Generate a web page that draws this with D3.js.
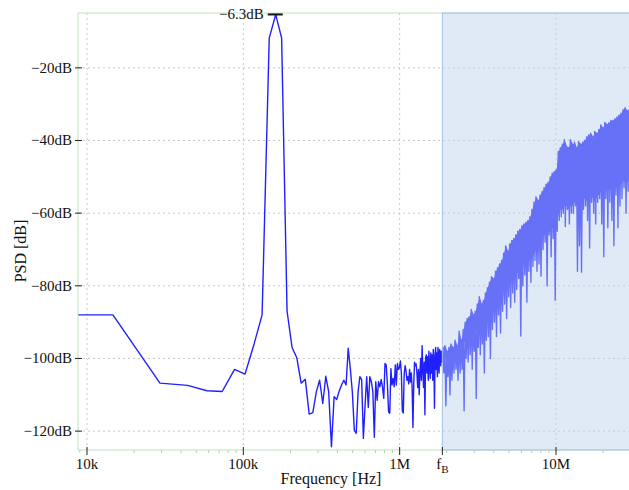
<!DOCTYPE html>
<html lang="en">
<head>
<meta charset="UTF-8">
<title>PSD</title>
<style>
  body { margin: 0; background: #fff; }
  svg text { font-family: 'Liberation Serif', 'Times New Roman', Times, 'DejaVu Serif', serif; font-size: 15px; fill: #111; }
  svg text.axis-title { font-size: 16px; }
</style>
</head>
<body>
<svg id="chart" width="629" height="490"></svg>
<script src="https://d3js.org/d3.v7.min.js"></script>
<script>
    // FFT bin spacing (60 MHz / 4096) and the DC level drawn at the left edge
    const binHz = 14648.4375;
    const dcLevel = -88;

    // PSD of bins 1..127 in dB
    const psdBins = [
        -88, -106.8, -107.4, -108.9, -109.1, -103, -104.3, -96, -88, -11.8,
        -5.3, -11.8, -87, -97, -99.8, -106.8, -105.7, -115.3, -114.9, -109.2,
        -106, -112.4, -104.9, -109.2, -124.3, -110.5, -111.3, -109, -107.3, -106,
        -107.3, -97.2, -102.8, -109.2, -119.7, -120.6, -109.2, -105, -105.8, -122,
        -113, -105, -113.5, -105, -106.4, -109.2, -121.7, -106.4, -111.5, -106.4,
        -107.8, -105.8, -107.8, -111, -101.4, -101.8, -107.3, -114.7, -115.1, -102.8,
        -107.3, -105.5, -107.8, -101.8, -107.3, -101.4, -103, -102.5, -100.7, -104,
        -114.5, -115, -104, -102, -103.5, -106, -105, -107, -103, -106.5,
        -104, -108, -119, -107, -101, -102, -101.5, -104, -108, -103,
        -110, -104, -100, -106, -96.5, -103, -108, -101, -115.5, -100,
        -99, -104, -99.5, -106, -98, -102, -105.5, -98.5, -104, -99,
        -106, -97.5, -101, -113.7, -99, -97, -103, -98.5, -105, -97,
        -100, -104, -97.5, -99, -102, -98, -101
    ];

    // above fB the bins are too dense to draw one by one:
    // per band the max, the bottom of the solid part, and the deepest dip
    const fB = 1.875e6;
    const fMax = 30e6;
    const bandHi = [
        -97, -96.5, -98, -97,
        -96, -97, -95, -96.5, -92.5, -95,
        -92, -90, -89, -88.5, -86.5, -88, -87,
        -85, -83, -85, -84, -82, -80.5, -79,
        -77.5, -78, -76, -75, -74, -73,
        -71, -69, -70.5, -68.5, -67.5, -67, -66,
        -65, -64.5, -63.5, -63, -62.5, -62, -61,
        -59, -57, -55.5, -56.5, -55, -54,
        -53, -52, -51.5, -50, -49, -48.5, -48,
        -43, -42, -41, -39.8, -41.5, -42, -39.8,
        -41, -40.5, -42, -40.3, -41, -40.5,
        -40, -39, -38.5, -38, -39, -37.5, -38,
        -37, -35.7, -36.5, -35, -35.5, -35.1, -34.5,
        -34.5, -34, -33.5, -33, -32.5, -31.5, -31, -31.8, -31.5
    ];
    const bandBody = [
        -101, -100, -101, -100,
        -100, -101, -99, -100, -97, -99,
        -96, -95, -94, -93, -92, -93, -93,
        -91, -90, -91, -90, -89, -88, -87,
        -86, -86, -85, -84, -84, -83,
        -81, -80, -80, -79, -78, -77, -77,
        -76, -76, -75, -74, -74, -73, -73,
        -72, -71, -70, -69, -68, -67,
        -66, -66, -65, -65, -64, -64, -63,
        -60, -59, -59, -58, -58, -59, -58,
        -58, -57, -58, -57, -57, -56,
        -56, -57, -56, -55, -56, -57, -55,
        -55, -54, -55, -54, -53, -54, -53,
        -54, -53, -53, -52, -52, -51, -52, -51, -52
    ];
    const bandLo = [
        -104, -113, -105, -110,
        -106, -104, -103, -106, -104, -103,
        -114.4, -100, -101, -99, -103, -98, -111,
        -97, -99, -96, -104, -95, -94, -100,
        -92, -90, -94, -88, -93, -87,
        -85, -89, -83, -86, -82, -84.5, -81,
        -78, -93.8, -80, -77, -84.5, -76, -79,
        -74.7, -73, -76, -74, -77.4, -70,
        -68, -80, -66, -72, -67, -84, -65,
        -62, -61, -60, -63.7, -59, -63, -60,
        -60, -58, -76, -69, -76.3, -59,
        -58, -62, -69.6, -57, -60, -63, -57,
        -56, -63, -72, -56, -64, -57, -62,
        -69, -55, -64, -58, -56, -53, -60, -54, -56
    ];

    const yTicks = [-20, -40, -60, -80, -100, -120];
    const xTicks = [1e4, 1e5, 1e6, 1e7];
    const xTickLabels = ["10k", "100k", "1M", "10M"];
    const peakLabel = "\u22126.3dB";

    const svg = d3.select("#chart")
        .attr("font-family", "'Liberation Serif', 'Times New Roman', serif");
    const plotL = 78, plotR = 629, plotT = 13, plotB = 450;
    const traceColor = "#2020ff";

    const x = d3.scaleLog().domain([8.76e3, 2.93e7]).range([plotL, plotR]);
    const y = d3.scaleLinear().domain([-125.2, -4.9]).range([plotB, plotT]);

    // grid
    svg.append("g").selectAll("line")
        .data(xTicks).enter().append("line")
        .attr("x1", d => x(d)).attr("x2", d => x(d))
        .attr("y1", plotT).attr("y2", plotB)
        .attr("stroke", "#c8c8c8").attr("stroke-dasharray", "2,3");
    svg.append("g").selectAll("line")
        .data(yTicks).enter().append("line")
        .attr("x1", plotL).attr("x2", plotR)
        .attr("y1", d => y(d)).attr("y2", d => y(d))
        .attr("stroke", "#c8c8c8").attr("stroke-dasharray", "2,3");

    svg.append("clipPath").attr("id", "plotClip")
        .append("rect").attr("x", plotL).attr("y", plotT)
        .attr("width", plotR - plotL).attr("height", plotB - plotT);

    // trace points
    const pts = [[x.domain()[0], dcLevel]];
    psdBins.forEach((v, i) => pts.push([(i + 1) * binHz, v]));
    const r = Math.pow(fMax / fB, 1 / bandHi.length);
    const bands = bandHi.map((h, i) => ({ f: fB * Math.pow(r, i), hi: h, body: bandBody[i], lo: bandLo[i] }));
    bands.forEach(b => {
        pts.push([b.f * Math.pow(r, 0.25), b.hi]);
        pts.push([b.f * Math.pow(r, 0.75), b.lo]);
    });

    // solid part of the dense band
    svg.append("path")
        .datum(bands)
        .attr("clip-path", "url(#plotClip)")
        .attr("fill", traceColor)
        .attr("d", d3.area()
            .x(d => x(d.f * Math.sqrt(r)))
            .y0(d => y(d.body))
            .y1(d => y(d.hi)));

    svg.append("path")
        .datum(pts)
        .attr("clip-path", "url(#plotClip)")
        .attr("fill", "none")
        .attr("stroke", traceColor)
        .attr("stroke-width", 1.4)
        .attr("stroke-linejoin", "round")
        .attr("d", d3.line().x(d => x(d[0])).y(d => y(d[1])));

    // frame lines
    const green = "#c4dfc0";
    svg.append("line").attr("x1", plotL).attr("x2", plotL).attr("y1", plotT).attr("y2", plotB).attr("stroke", green);
    svg.append("line").attr("x1", plotL).attr("x2", plotR).attr("y1", plotB).attr("y2", plotB).attr("stroke", green);
    svg.append("line").attr("x1", plotL).attr("x2", plotR).attr("y1", plotT).attr("y2", plotT).attr("stroke", green);

    // band above fB
    svg.append("rect")
        .attr("x", x(fB)).attr("y", plotT)
        .attr("width", plotR + 10 - x(fB)).attr("height", plotB - plotT)
        .attr("fill", "rgba(188,209,238,0.46)")
        .attr("stroke", "#a8c1e3");

    // y axis ticks
    yTicks.forEach(t => {
        svg.append("line").attr("x1", plotL - 3).attr("x2", plotL + 4)
            .attr("y1", y(t)).attr("y2", y(t)).attr("stroke", "#222");
        svg.append("text").attr("x", plotL - 6).attr("y", y(t)).attr("dy", "0.33em")
            .attr("text-anchor", "end").text("\u2212" + Math.abs(t) + "dB");
    });

    // x axis minor ticks
    const minor = [];
    [1e3, 1e4, 1e5, 1e6, 1e7].forEach(dec => {
        for (let k = 2; k <= 9; k++) {
            const f = dec * k;
            if (f > x.domain()[0] && f < x.domain()[1]) minor.push(f);
        }
    });
    svg.append("g").selectAll("line").data(minor).enter().append("line")
        .attr("x1", d => x(d)).attr("x2", d => x(d))
        .attr("y1", plotB).attr("y2", plotB + 3)
        .attr("stroke", "#b0d4aa");

    // x axis major ticks + fB
    xTicks.concat([fB]).forEach(t => {
        svg.append("line").attr("x1", x(t)).attr("x2", x(t))
            .attr("y1", plotB - 3).attr("y2", plotB + 5).attr("stroke", "#222");
    });
    xTicks.forEach((t, i) => {
        svg.append("text").attr("x", x(t)).attr("y", 469)
            .attr("text-anchor", "middle").text(xTickLabels[i]);
    });
    const fbText = svg.append("text").attr("x", x(fB)).attr("y", 469).attr("text-anchor", "middle");
    fbText.append("tspan").text("f");
    fbText.append("tspan").attr("dy", 4).style("font-size", "11px").text("B");

    // axis titles
    svg.append("text").attr("class", "axis-title")
        .attr("x", 331).attr("y", 484).attr("text-anchor", "middle")
        .text("Frequency [Hz]");
    svg.append("text").attr("class", "axis-title")
        .attr("transform", "translate(26,251) rotate(-90)")
        .attr("text-anchor", "middle")
        .text("PSD [dB]");

    // peak marker
    const peakIdx = d3.maxIndex(psdBins);
    const px = x((peakIdx + 1) * binHz), py = y(psdBins[peakIdx]);
    svg.append("line").attr("x1", px - 8).attr("x2", px + 7)
        .attr("y1", py).attr("y2", py)
        .attr("stroke", "#111").attr("stroke-width", 2);
    svg.append("text").attr("x", px - 12).attr("y", py).attr("dy", "0.3em")
        .attr("text-anchor", "end").text(peakLabel);
</script>
</body>
</html>
